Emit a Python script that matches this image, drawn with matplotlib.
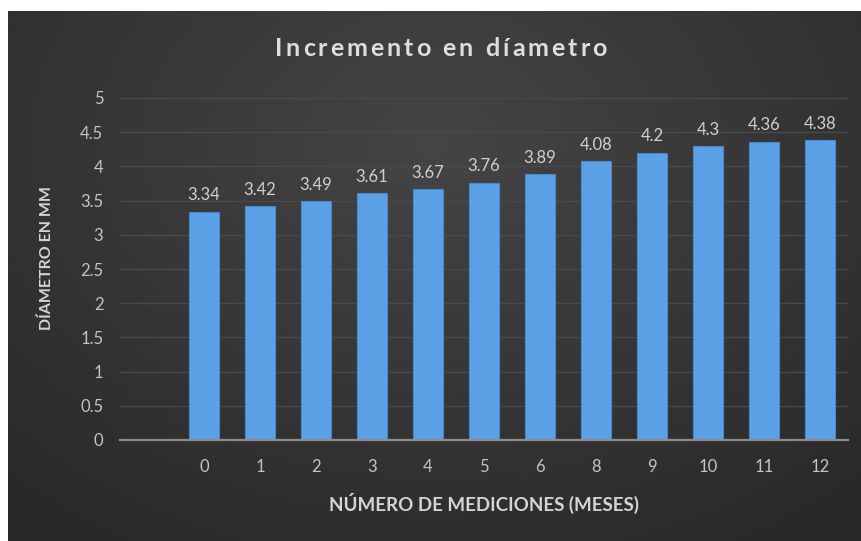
import numpy as np
import matplotlib
matplotlib.use("Agg")
import matplotlib.pyplot as plt

# Data
meses = ["0", "1", "2", "3", "4", "5", "6", "8", "9", "10", "11", "12"]
diametro = [3.34, 3.42, 3.49, 3.61, 3.67, 3.76, 3.89, 4.08, 4.2, 4.3, 4.36, 4.38]
y_ticks = [0, 0.5, 1, 1.5, 2, 2.5, 3, 3.5, 4, 4.5, 5]
y_tick_labels = ["0", "0.5", "1", "1.5", "2", "2.5", "3", "3.5", "4", "4.5", "5"]

W, H = 861, 541
fig = plt.figure(figsize=(W / 100, H / 100), dpi=100, facecolor="white")

# Dark chart area with a soft radial glow
bg = fig.add_axes([8 / W, 0, 1 - 8 / W, 1 - 11 / H])
bg.set_axis_off()
yy, xx = np.mgrid[0:1:300j, 0:1:500j]
r = np.sqrt(((xx - 0.5) / 0.75) ** 2 + ((yy - 0.75) / 0.9) ** 2)
shade = np.clip(1 - r, 0, 1)
base = np.array([0.16, 0.16, 0.16])
glow = np.array([0.27, 0.27, 0.27])
img = base[None, None, :] + (glow - base)[None, None, :] * shade[..., None]
bg.imshow(img, extent=[0, 1, 0, 1], origin="lower", aspect="auto")
bg.set_xlim(0, 1)
bg.set_ylim(0, 1)

# Plot area
left, right = 120, 848
top, bottom = 98, 440
ax = fig.add_axes([left / W, 1 - bottom / H, (right - left) / W, (bottom - top) / H])
ax.patch.set_alpha(0)

x = np.arange(len(meses))
bars = ax.bar(x, diametro, width=0.52, color="#5ca1e6", edgecolor="#4a86c8",
              linewidth=0.8, zorder=3)

ax.set_xlim(-1.5, len(meses) - 0.5)
ax.set_ylim(0, 5)
ax.set_yticks(y_ticks)
ax.set_yticklabels(y_tick_labels)
ax.set_xticks(x)
ax.set_xticklabels(meses)

for s in ["top", "right", "left"]:
    ax.spines[s].set_visible(False)
ax.spines["bottom"].set_color("#8c8c8c")
ax.spines["bottom"].set_linewidth(1.6)
ax.spines["bottom"].set_zorder(4)

ax.grid(axis="y", color="#4a4a4a", linewidth=1.0, zorder=0)
ax.set_axisbelow(True)

font = "Lato"
ax.tick_params(axis="both", length=0, colors="#c4c4c4", labelsize=12)
ax.tick_params(axis="y", pad=12)
ax.tick_params(axis="x", pad=14)
for lab in ax.get_xticklabels() + ax.get_yticklabels():
    lab.set_fontfamily(font)

# Value labels
for xi, v in zip(x, diametro):
    ax.annotate(f"{v:g}", (xi, v), xytext=(0, 6), textcoords="offset points",
                ha="center", va="bottom", color="#d0d0d0", fontsize=12,
                family=font)

# Axis titles
fig.text(47 / W, 1 - 258 / H, "DÍAMETRO EN MM", rotation=90, ha="center",
         va="center", color="#d4d4d4", fontsize=11.5, fontweight="bold",
         family=font)
fig.text(484 / W, 1 - 503 / H, "NÚMERO DE MEDICIONES (MESES)", ha="center",
         va="center", color="#d4d4d4", fontsize=13.5, fontweight="bold",
         family=font)

# Title drawn letter by letter with extra tracking
title = "Incremento en díametro"
title_size = 18
tracking = 3.0  # px between letters
renderer = fig.canvas.get_renderer()
widths = []
for ch in title:
    t = fig.text(0, 0, ch if ch != " " else "n", fontsize=title_size,
                 family=font, fontweight="bold")
    w = t.get_window_extent(renderer).width
    if ch == " ":
        w *= 0.45
    widths.append(w)
    t.remove()
total = sum(widths) + tracking * (len(title) - 1)
cx = 441
xpos = cx - total / 2
for ch, w in zip(title, widths):
    fig.text(xpos / W, 1 - 48 / H, ch, fontsize=title_size, family=font,
             fontweight="bold", color="#dedede", ha="left", va="center")
    xpos += w + tracking

fig.savefig("out.png", dpi=100, facecolor=fig.get_facecolor())
